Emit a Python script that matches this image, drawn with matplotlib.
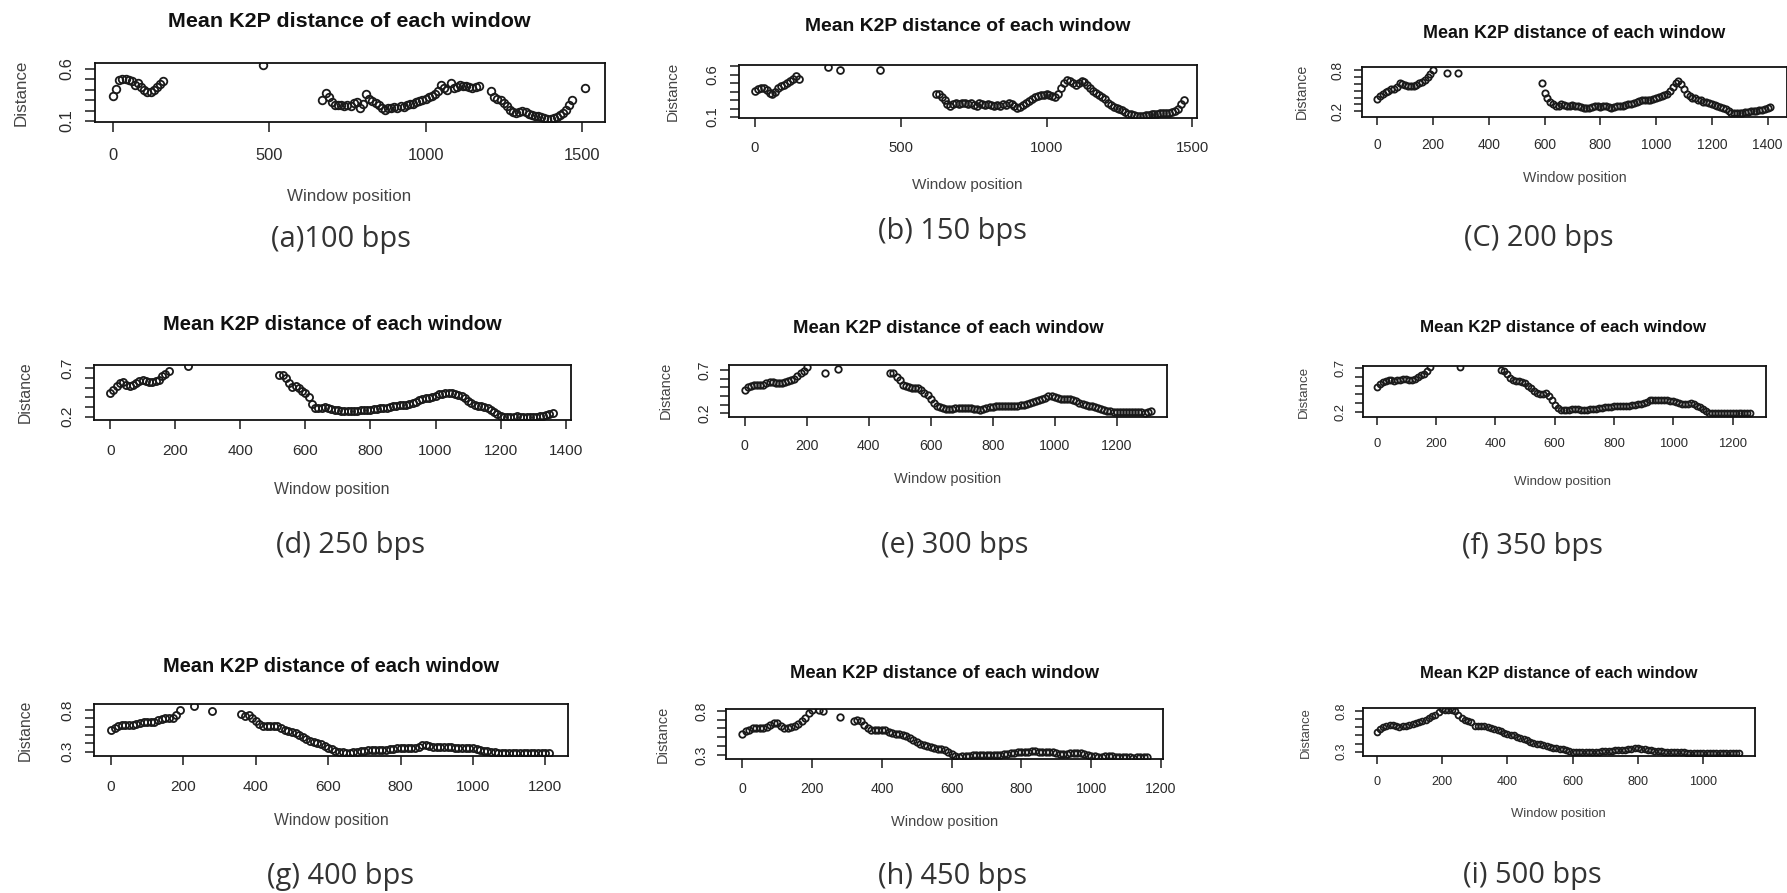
import numpy as np
import matplotlib
matplotlib.use("Agg")
import matplotlib.pyplot as plt

W, H = 1787, 893
STEP = 10  # sliding window step

# ---- data: mean K2P distance, runs of consecutive windows ----
a_starts = [0, 480, 670, 1210, 1510]
a_runs = [
    [0.34, 0.41, 0.49, 0.50, 0.50, 0.49, 0.48, 0.45, 0.47, 0.43, 0.40, 0.38, 0.38, 0.40, 0.43, 0.46, 0.48],
    [0.64],
    [0.30, 0.37, 0.33, 0.28, 0.25, 0.25, 0.25, 0.24, 0.25, 0.24, 0.27, 0.28, 0.22, 0.26, 0.36, 0.31, 0.29,
     0.27, 0.25, 0.22, 0.21, 0.22, 0.22, 0.23, 0.22, 0.24, 0.23, 0.25, 0.26, 0.26, 0.28, 0.29, 0.30, 0.31,
     0.33, 0.34, 0.36, 0.39, 0.45, 0.42, 0.40, 0.47, 0.42, 0.43, 0.45, 0.44, 0.44, 0.43, 0.42, 0.43, 0.44],
    [0.39, 0.33, 0.31, 0.30, 0.27, 0.24, 0.21, 0.19, 0.18, 0.19, 0.20, 0.19, 0.17, 0.16, 0.15, 0.15, 0.14,
     0.13, 0.12, 0.12, 0.13, 0.14, 0.16, 0.18, 0.21, 0.25, 0.30],
    [0.42],
]

b_starts = [0, 250, 290, 430, 620]
b_runs = [
    [0.41, 0.43, 0.44, 0.44, 0.42, 0.38, 0.37, 0.40, 0.44, 0.46, 0.48, 0.50, 0.52, 0.55, 0.58, 0.55],
    [0.69],
    [0.65],
    [0.65],
    [0.37, 0.37, 0.34, 0.30, 0.25, 0.23, 0.25, 0.26, 0.25, 0.27, 0.26, 0.25, 0.26, 0.24, 0.23, 0.26, 0.25,
     0.24, 0.25, 0.24, 0.23, 0.24, 0.23, 0.25, 0.24, 0.26, 0.25, 0.23, 0.21, 0.22, 0.24, 0.26, 0.29, 0.31,
     0.33, 0.35, 0.36, 0.36, 0.37, 0.36, 0.35, 0.33, 0.37, 0.44, 0.50, 0.53, 0.52, 0.50, 0.48, 0.50, 0.52,
     0.51, 0.48, 0.44, 0.41, 0.38, 0.36, 0.34, 0.31, 0.26, 0.24, 0.22, 0.21, 0.19, 0.18, 0.16, 0.14, 0.13,
     0.12, 0.11, 0.11, 0.11, 0.12, 0.12, 0.13, 0.14, 0.14, 0.15, 0.15, 0.15, 0.15, 0.16, 0.17, 0.20, 0.25,
     0.30],
]

c_starts = [0, 250, 290, 590]
c_runs = [
    [0.38, 0.42, 0.45, 0.48, 0.50, 0.52, 0.53, 0.56, 0.62, 0.60, 0.58, 0.57, 0.57, 0.57, 0.59, 0.61, 0.63,
     0.66, 0.70, 0.74, 0.80],
    [0.76],
    [0.76],
    [0.62, 0.47, 0.40, 0.34, 0.30, 0.27, 0.28, 0.30, 0.29, 0.28, 0.28, 0.29, 0.28, 0.27, 0.26, 0.25, 0.25,
     0.25, 0.26, 0.27, 0.27, 0.26, 0.27, 0.27, 0.26, 0.25, 0.26, 0.27, 0.28, 0.28, 0.29, 0.30, 0.31, 0.32,
     0.33, 0.35, 0.36, 0.37, 0.37, 0.37, 0.38, 0.40, 0.41, 0.43, 0.44, 0.46, 0.50, 0.55, 0.62, 0.65, 0.60,
     0.53, 0.46, 0.42, 0.40, 0.39, 0.37, 0.36, 0.34, 0.33, 0.32, 0.31, 0.29, 0.28, 0.26, 0.25, 0.23, 0.21,
     0.18, 0.17, 0.17, 0.18, 0.18, 0.19, 0.19, 0.20, 0.20, 0.21, 0.22, 0.22, 0.23, 0.25, 0.26],
]

d_starts = [0, 240, 520]
d_runs = [
    [0.44, 0.48, 0.52, 0.55, 0.56, 0.53, 0.52, 0.53, 0.55, 0.57, 0.58, 0.57, 0.56, 0.56, 0.57, 0.58, 0.62,
     0.64, 0.67],
    [0.72],
    [0.63, 0.63, 0.60, 0.55, 0.51, 0.52, 0.50, 0.47, 0.45, 0.40, 0.33, 0.29, 0.29, 0.29, 0.30, 0.29, 0.28,
     0.27, 0.27, 0.26, 0.26, 0.26, 0.26, 0.26, 0.26, 0.27, 0.27, 0.27, 0.27, 0.28, 0.28, 0.29, 0.29, 0.29,
     0.30, 0.31, 0.31, 0.32, 0.32, 0.32, 0.33, 0.34, 0.35, 0.37, 0.38, 0.39, 0.39, 0.40, 0.41, 0.43, 0.43,
     0.44, 0.44, 0.44, 0.43, 0.42, 0.41, 0.39, 0.36, 0.34, 0.32, 0.31, 0.31, 0.30, 0.29, 0.27, 0.25, 0.23,
     0.21, 0.20, 0.20, 0.20, 0.20, 0.21, 0.20, 0.20, 0.20, 0.20, 0.20, 0.20, 0.21, 0.21, 0.22, 0.23, 0.24],
]

e_starts = [0, 260, 300, 470]
e_runs = [
    [0.47, 0.50, 0.52, 0.53, 0.53, 0.53, 0.53, 0.55, 0.56, 0.56, 0.55, 0.55, 0.55, 0.56, 0.57, 0.58, 0.60,
     0.63, 0.66, 0.69, 0.74],
    [0.67],
    [0.71],
    [0.66, 0.66, 0.62, 0.58, 0.53, 0.51, 0.50, 0.49, 0.49, 0.49, 0.47, 0.44, 0.41, 0.37, 0.32, 0.29, 0.27,
     0.26, 0.25, 0.25, 0.25, 0.26, 0.26, 0.26, 0.26, 0.26, 0.26, 0.25, 0.25, 0.24, 0.25, 0.26, 0.27, 0.27,
     0.28, 0.28, 0.28, 0.28, 0.28, 0.29, 0.29, 0.29, 0.30, 0.30, 0.31, 0.32, 0.33, 0.34, 0.35, 0.37, 0.38,
     0.40, 0.40, 0.39, 0.38, 0.37, 0.36, 0.36, 0.36, 0.35, 0.34, 0.32, 0.31, 0.30, 0.29, 0.28, 0.27, 0.26,
     0.25, 0.24, 0.23, 0.23, 0.22, 0.22, 0.22, 0.22, 0.22, 0.22, 0.22, 0.21, 0.21, 0.21, 0.20, 0.21, 0.23],
]

f_starts = [0, 280, 420]
f_runs = [
    [0.48, 0.52, 0.54, 0.55, 0.56, 0.56, 0.55, 0.56, 0.57, 0.58, 0.58, 0.57, 0.56, 0.58, 0.60, 0.62, 0.64,
     0.67, 0.71],
    [0.71],
    [0.68, 0.67, 0.63, 0.59, 0.56, 0.55, 0.55, 0.54, 0.53, 0.50, 0.47, 0.44, 0.41, 0.40, 0.40, 0.42, 0.38,
     0.33, 0.28, 0.24, 0.22, 0.22, 0.22, 0.22, 0.23, 0.23, 0.23, 0.22, 0.22, 0.22, 0.23, 0.23, 0.23, 0.24,
     0.24, 0.25, 0.25, 0.25, 0.26, 0.26, 0.27, 0.27, 0.27, 0.27, 0.28, 0.28, 0.29, 0.29, 0.30, 0.31, 0.33,
     0.34, 0.34, 0.34, 0.33, 0.33, 0.33, 0.32, 0.32, 0.31, 0.30, 0.29, 0.29, 0.29, 0.30, 0.29, 0.27, 0.25,
     0.23, 0.21, 0.19, 0.19, 0.19, 0.19, 0.19, 0.19, 0.19, 0.19, 0.18, 0.18, 0.18, 0.18, 0.19, 0.19, 0.18],
]

g_starts = [0, 230, 280, 360]
g_runs = [
    [0.56, 0.59, 0.61, 0.62, 0.62, 0.62, 0.62, 0.63, 0.65, 0.66, 0.66, 0.66, 0.66, 0.68, 0.69, 0.70, 0.70,
     0.70, 0.74, 0.80],
    [0.85],
    [0.79],
    [0.75, 0.73, 0.74, 0.71, 0.67, 0.63, 0.61, 0.61, 0.61, 0.61, 0.61, 0.59, 0.56, 0.55, 0.54, 0.52, 0.50,
     0.48, 0.45, 0.43, 0.42, 0.41, 0.39, 0.37, 0.35, 0.33, 0.31, 0.30, 0.30, 0.29, 0.29, 0.30, 0.30, 0.31,
     0.31, 0.32, 0.32, 0.32, 0.32, 0.32, 0.32, 0.33, 0.33, 0.34, 0.35, 0.35, 0.35, 0.35, 0.35, 0.36, 0.38,
     0.38, 0.37, 0.36, 0.36, 0.36, 0.36, 0.36, 0.36, 0.35, 0.35, 0.35, 0.35, 0.34, 0.34, 0.33, 0.32, 0.31,
     0.31, 0.30, 0.30, 0.29, 0.29, 0.29, 0.29, 0.29, 0.29, 0.29, 0.29, 0.29, 0.29, 0.29, 0.29, 0.29, 0.29,
     0.28],
]

h_starts = [0, 220, 280, 320]
h_runs = [
    [0.54, 0.57, 0.58, 0.60, 0.60, 0.61, 0.61, 0.62, 0.64, 0.66, 0.66, 0.63, 0.60, 0.61, 0.62, 0.63, 0.65,
     0.68, 0.72, 0.78, 0.81],
    [0.81, 0.80],
    [0.73],
    [0.68, 0.70, 0.68, 0.64, 0.60, 0.58, 0.58, 0.58, 0.58, 0.58, 0.56, 0.55, 0.54, 0.54, 0.53, 0.51, 0.49,
     0.47, 0.45, 0.43, 0.41, 0.40, 0.39, 0.38, 0.37, 0.37, 0.36, 0.34, 0.31, 0.29, 0.28, 0.29, 0.29, 0.29,
     0.30, 0.30, 0.30, 0.30, 0.30, 0.30, 0.30, 0.30, 0.30, 0.31, 0.31, 0.32, 0.32, 0.33, 0.33, 0.34, 0.34,
     0.35, 0.35, 0.34, 0.34, 0.33, 0.33, 0.33, 0.32, 0.31, 0.31, 0.31, 0.32, 0.32, 0.32, 0.32, 0.31, 0.30,
     0.29, 0.29, 0.28, 0.28, 0.29, 0.29, 0.29, 0.28, 0.28, 0.28, 0.28, 0.28, 0.27, 0.28, 0.28, 0.28, 0.28],
]

i_starts = [0]
i_runs = [
    [0.54, 0.58, 0.60, 0.62, 0.63, 0.63, 0.62, 0.60, 0.61, 0.62, 0.63, 0.64, 0.65, 0.66, 0.67, 0.69, 0.71,
     0.73, 0.75, 0.79, 0.82, 0.81, 0.81, 0.81, 0.80, 0.75, 0.71, 0.69, 0.68, 0.66, 0.62, 0.61, 0.61, 0.61,
     0.60, 0.59, 0.58, 0.56, 0.55, 0.53, 0.52, 0.51, 0.50, 0.48, 0.47, 0.45, 0.44, 0.42, 0.41, 0.40, 0.39,
     0.38, 0.37, 0.36, 0.35, 0.34, 0.33, 0.33, 0.32, 0.31, 0.30, 0.30, 0.30, 0.30, 0.30, 0.30, 0.30, 0.30,
     0.30, 0.31, 0.31, 0.31, 0.31, 0.32, 0.32, 0.32, 0.32, 0.33, 0.33, 0.34, 0.34, 0.33, 0.33, 0.32, 0.32,
     0.31, 0.31, 0.31, 0.30, 0.30, 0.30, 0.30, 0.30, 0.30, 0.30, 0.29, 0.29, 0.29, 0.29, 0.28, 0.28, 0.28,
     0.28, 0.28, 0.28, 0.28, 0.29, 0.29, 0.29, 0.29, 0.29, 0.29],
]

captions = ["(a)100 bps", "(b) 150 bps", "(C) 200 bps", "(d) 250 bps", "(e) 300 bps",
            "(f) 350 bps", "(g) 400 bps", "(h) 450 bps", "(i) 500 bps"]

# ---- layout (pixels of the 1787x893 canvas) ----
# plot box: left, right, top, bottom
boxes = [(95, 605, 62.7, 122), (738.5, 1197, 65, 117.7), (1362, 1786.5, 67, 116.7),
         (93.8, 571, 365, 420), (729.4, 1167.2, 365, 416.7), (1363.3, 1765.8, 365.7, 417.3),
         (93.8, 568.3, 704, 756), (726.3, 1163.3, 709, 759.3), (1363.3, 1754.7, 708.3, 756)]
xlims = [(-57.6, 1574), (-56.6, 1516), (-55, 1468), (-50.4, 1416.5), (-49.4, 1363),
         (-45, 1312), (-47.5, 1263.6), (-46, 1206.7), (-40.7, 1157)]
ylims = [(0.09, 0.661), (0.092, 0.712), (0.12, 0.85), (0.166, 0.734), (0.161, 0.758),
         (0.135, 0.73), (0.248, 0.872), (0.252, 0.82), (0.248, 0.83)]
xmax_tick = [1500, 1500, 1400, 1400, 1200, 1200, 1200, 1200, 1000]
xstep = [500, 500, 200, 200, 200, 200, 200, 200, 200]
ylab_lo = [0.1, 0.1, 0.2, 0.2, 0.2, 0.2, 0.3, 0.3, 0.3]
ylab_hi = [0.6, 0.6, 0.8, 0.7, 0.7, 0.7, 0.8, 0.8, 0.8]
ytick_hi = [0.6, 0.7, 0.8, 0.7, 0.7, 0.7, 0.8, 0.8, 0.8]
title_xy = [(349, 21.7), (967.4, 26.7), (1574.6, 33.3), (332, 325), (948.3, 328.3),
            (1563.2, 327.3), (331, 666.7), (944.4, 673.3), (1558.6, 673.3)]
xlab_xy = [(349, 196.7), (967, 185), (1574.6, 178.3), (332, 489.3), (947.5, 479.3),
           (1563, 481.7), (331, 820), (944.4, 822.3), (1558.6, 814.3)]
ylab_x = [21, 672.7, 1302, 25, 665.8, 1304, 25, 663, 1306]
cap_xy = [(340.6, 240), (952, 231.7), (1538.4, 238.3), (350, 545), (955, 545),
          (1532.7, 546.7), (340.6, 876.7), (952.8, 876.7), (1532.7, 875)]

all_starts = [a_starts, b_starts, c_starts, d_starts, e_starts, f_starts, g_starts, h_starts, i_starts]
all_runs = [a_runs, b_runs, c_runs, d_runs, e_runs, f_runs, g_runs, h_runs, i_runs]

PT = 0.72  # points per pixel at dpi 100


def fx(px):
    return px / W


def fy(py):
    return 1 - py / H


fig = plt.figure(figsize=(W / 100, H / 100), dpi=100)
fig.patch.set_facecolor("white")

for k in range(9):
    left, right, top, bottom = boxes[k]
    s = (right - left) / 510.0
    ax = fig.add_axes([fx(left), fy(bottom), (right - left) / W, (bottom - top) / H])

    for start, run in zip(all_starts[k], all_runs[k]):
        x = start + STEP * np.arange(len(run))
        ax.plot(x, run, "o", mfc="none", mec="#1a1a1a", ms=7.6 * s * PT, mew=1.3, ls="none")

    ax.set_xlim(*xlims[k])
    ax.set_ylim(*ylims[k])

    xt = np.arange(0, xmax_tick[k] + 1, xstep[k])
    ax.set_xticks(xt)
    ax.set_xticklabels([str(v) for v in xt])

    yt = np.round(np.arange(ylab_lo[k], ytick_hi[k] + 0.001, 0.1), 1)
    ax.set_yticks(yt)
    ax.set_yticklabels([f"{v:.1f}" if v in (ylab_lo[k], ylab_hi[k]) else "" for v in yt],
                       rotation=90, va="center")

    ax.tick_params(direction="out", length=10 * s * PT, width=1.1,
                   labelsize=16.5 * s * PT, colors="#1a1a1a", labelcolor="#2b2b2b")
    ax.tick_params(axis="x", pad=16 * s * PT)
    ax.tick_params(axis="y", pad=11 * s * PT)
    for lab in ax.get_xticklabels() + ax.get_yticklabels():
        lab.set_family("Liberation Sans")
    for sp in ax.spines.values():
        sp.set_linewidth(1.3)
        sp.set_color("#111111")

    fig.text(fx(title_xy[k][0]), fy(title_xy[k][1]), "Mean K2P distance of each window",
             ha="center", va="center", fontsize=21.5 * s * PT, fontweight="bold",
             family="Liberation Sans", color="#111111")
    fig.text(fx(xlab_xy[k][0]), fy(xlab_xy[k][1]), "Window position",
             ha="center", va="center", fontsize=17 * s * PT, family="Liberation Sans",
             color="#444444")
    fig.text(fx(ylab_x[k]), fy((top + bottom) / 2), "Distance", rotation=90,
             ha="center", va="center", fontsize=17 * s * PT, family="Liberation Sans",
             color="#444444")
    fig.text(fx(cap_xy[k][0]), fy(cap_xy[k][1]), captions[k], ha="center", va="center",
             fontsize=29 * PT, family="Open Sans", color="#333333")

fig.savefig("out.png", dpi=100, facecolor="white")
